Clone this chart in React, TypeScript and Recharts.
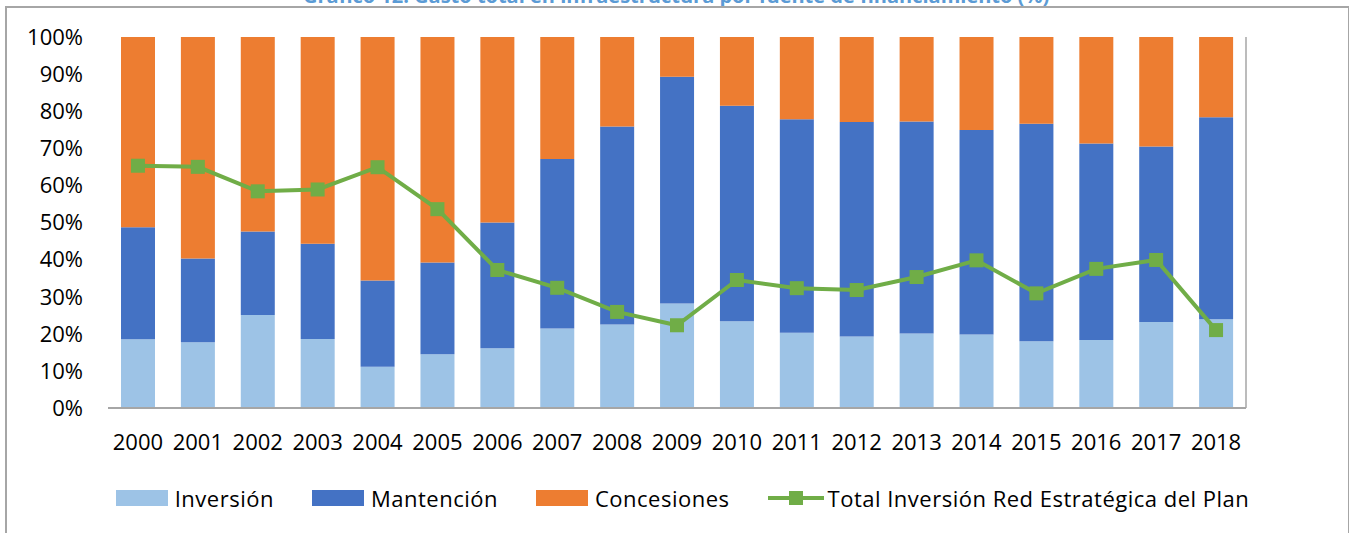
import React from 'react';
import {
  ComposedChart,
  Bar,
  Line,
  XAxis,
  YAxis,
  Legend,
} from 'recharts';

const years = [
  '2000', '2001', '2002', '2003', '2004', '2005', '2006', '2007', '2008', '2009',
  '2010', '2011', '2012', '2013', '2014', '2015', '2016', '2017', '2018',
];
const inversion = [18.5, 17.7, 25.1, 18.6, 11.1, 14.5, 16.1, 21.4, 22.5, 28.2, 23.4, 20.3, 19.3, 20.1, 19.8, 18.0, 18.3, 23.2, 23.9];
const mantencion = [30.2, 22.6, 22.5, 25.7, 23.3, 24.7, 33.9, 45.7, 53.4, 61.1, 58.1, 57.5, 57.8, 57.1, 55.1, 58.6, 53.0, 47.3, 54.5];
const concesiones = [51.3, 59.7, 52.4, 55.7, 65.6, 60.8, 50.0, 32.9, 24.1, 10.7, 18.5, 22.2, 22.9, 22.8, 25.1, 23.4, 28.7, 29.5, 21.6];
const totalRedEstrategica = [65.3, 65.0, 58.4, 58.9, 64.9, 53.6, 37.2, 32.4, 25.9, 22.3, 34.5, 32.3, 31.8, 35.3, 39.8, 30.9, 37.5, 39.9, 21.0];
const pctTicks = [0, 10, 20, 30, 40, 50, 60, 70, 80, 90, 100];

const data = years.map((year, i) => ({
  year,
  inversion: inversion[i],
  mantencion: mantencion[i],
  concesiones: concesiones[i],
  total: totalRedEstrategica[i],
}));

const FONT = '"Open Sans", sans-serif';
const GRAY = '#a6a6a6';
const C_INV = '#9dc3e6';
const C_MAN = '#4472c4';
const C_CON = '#ed7d31';
const C_TOT = '#70ad47';

const tickStyle = { fontSize: 22, fill: '#000', fontFamily: FONT };

function SquareDot(props: any) {
  const { cx, cy, index } = props;
  if (cx == null || cy == null) return <g key={`d-${index}`} />;
  return <rect key={`d-${index}`} x={cx - 7} y={cy - 7} width={14} height={14} fill={C_TOT} />;
}

function LegendBox({ color, label }: { color: string; label: string }) {
  return (
    <div style={{ display: 'flex', alignItems: 'center' }}>
      <div style={{ width: 52, height: 16, background: color }} />
      <span style={{ marginLeft: 7 }}>{label}</span>
    </div>
  );
}

function ChartLegend() {
  return (
    <div
      style={{
        display: 'flex',
        justifyContent: 'center',
        alignItems: 'center',
        gap: 38,
        height: 40,
        fontFamily: FONT,
        fontSize: 22,
        letterSpacing: 0.5,
        color: '#000',
        paddingLeft: 8,
      }}
    >
      <LegendBox color={C_INV} label="Inversión" />
      <LegendBox color={C_MAN} label="Mantención" />
      <LegendBox color={C_CON} label="Concesiones" />
      <div style={{ display: 'flex', alignItems: 'center' }}>
        <svg width={56} height={16}>
          <line x1={0} y1={8} x2={56} y2={8} stroke={C_TOT} strokeWidth={4} />
          <rect x={21} y={1} width={14} height={14} fill={C_TOT} />
        </svg>
        <span style={{ marginLeft: 4 }}>Total Inversión Red Estratégica del Plan</span>
      </div>
    </div>
  );
}

export default function App() {
  return (
    <div
      style={{
        position: 'absolute',
        left: 0,
        top: 0,
        width: 1349,
        height: 533,
        overflow: 'hidden',
        background: '#fff',
      }}
    >
      <div
        style={{
          position: 'absolute',
          top: -14,
          left: 303,
          fontFamily: FONT,
          fontWeight: 700,
          fontSize: 20,
          lineHeight: 1,
          color: '#5b9bd5',
          whiteSpace: 'nowrap',
        }}
      >
        Gráfico 12: Gasto total en infraestructura por fuente de financiamiento (%)
      </div>
      <div
        style={{
          position: 'absolute',
          top: 6,
          left: 5,
          width: 1341,
          height: 540,
          borderTop: `2px solid ${GRAY}`,
          borderLeft: `2px solid ${GRAY}`,
          borderRight: `2px solid ${GRAY}`,
        }}
      />
      <ComposedChart
        width={1349}
        height={533}
        data={data}
        margin={{ top: 37, right: 0, left: 8, bottom: 15 }}
      >
        <XAxis
          dataKey="year"
          height={70}
          tickLine={false}
          tickSize={0}
          tickMargin={26}
          axisLine={{ stroke: GRAY, strokeWidth: 2 }}
          tick={tickStyle}
          interval={0}
        />
        <YAxis
          yAxisId="left"
          width={100}
          domain={[0, 100]}
          ticks={pctTicks}
          tickFormatter={(v) => `${v}%`}
          axisLine={false}
          tickLine={false}
          tickSize={0}
          tickMargin={25}
          tick={tickStyle}
        />
        <YAxis
          yAxisId="right"
          orientation="right"
          width={103}
          domain={[0, 100]}
          ticks={pctTicks}
          tickFormatter={(v) => `${v}%`}
          axisLine={{ stroke: GRAY, strokeWidth: 1.5 }}
          tickLine={{ stroke: GRAY, strokeWidth: 1.5 }}
          tickSize={9}
          tickMargin={17}
          tick={tickStyle}
        />
        <Legend verticalAlign="bottom" content={() => <ChartLegend />} />
        <Bar yAxisId="left" dataKey="inversion" name="Inversión" stackId="a" fill={C_INV} barSize={34} isAnimationActive={false} />
        <Bar yAxisId="left" dataKey="mantencion" name="Mantención" stackId="a" fill={C_MAN} barSize={34} isAnimationActive={false} />
        <Bar yAxisId="left" dataKey="concesiones" name="Concesiones" stackId="a" fill={C_CON} barSize={34} isAnimationActive={false} />
        <Line
          yAxisId="left"
          dataKey="total"
          name="Total Inversión Red Estratégica del Plan"
          stroke={C_TOT}
          strokeWidth={4}
          dot={SquareDot}
          activeDot={false}
          isAnimationActive={false}
        />
      </ComposedChart>
    </div>
  );
}
